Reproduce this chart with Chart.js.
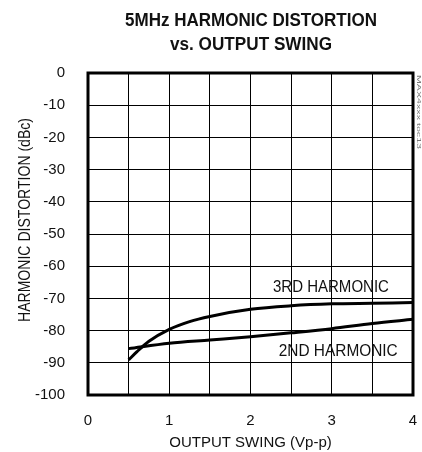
<!DOCTYPE html>
<html><head><meta charset="utf-8">
<script src="https://cdn.jsdelivr.net/npm/chart.js@4/dist/chart.umd.min.js"></script>
<style>html,body{margin:0;padding:0;background:#fff}#c{display:block}</style>
</head><body>
<canvas id="c" width="422" height="452"></canvas>
<script>
const titleLines = ["5MHz HARMONIC DISTORTION", "vs. OUTPUT SWING"];
const xTitle = "OUTPUT SWING (Vp-p)";
const yTitle = "HARMONIC DISTORTION (dBc)";
const sideNote = "MAX4xxx toc13";
const swing3rd = [0.5, 0.6, 0.75, 1.0, 1.25, 1.5, 2.0, 2.5, 3.0, 3.5, 4.0];
const hd3 = [-89.1, -86.6, -83.3, -79.6, -77.2, -75.6, -73.4, -72.3, -71.7, -71.5, -71.3];
const swing2nd = [0.5, 1.0, 1.5, 2.0, 2.5, 3.0, 3.5, 4.0];
const hd2 = [-85.6, -83.9, -82.9, -81.9, -80.7, -79.4, -77.8, -76.5];
const curveLabels = [
  {text: "3RD HARMONIC", x: 2.99, y: -66.5},
  {text: "2ND HARMONIC", x: 3.08, y: -86.3}
];
const yTicks = [0,-10,-20,-30,-40,-50,-60,-70,-80,-90,-100];
const xGrid = [0,0.5,1,1.5,2,2.5,3,3.5,4];
const xTickLabels = [0,1,2,3,4];

const FONT = "'Liberation Sans',Arial,sans-serif";

function fitText(ctx, text, cx, cy, font, targetW) {
  ctx.save();
  ctx.font = font;
  const w = ctx.measureText(text).width;
  ctx.translate(cx, cy);
  ctx.scale(targetW / w, 1);
  ctx.textAlign = 'center'; ctx.textBaseline = 'middle';
  ctx.fillText(text, 0, 0);
  ctx.restore();
}

const deco = {
  id: 'deco',
  afterDatasetsDraw(chart) {
    const {ctx, chartArea: a, scales} = chart;
    ctx.save();
    ctx.strokeStyle = '#000'; ctx.lineWidth = 3;
    ctx.strokeRect(a.left, a.top, a.right - a.left, a.bottom - a.top);
    ctx.fillStyle = '#111';
    fitText(ctx, curveLabels[0].text, scales.x.getPixelForValue(curveLabels[0].x), scales.y.getPixelForValue(curveLabels[0].y), "17px " + FONT, 116);
    fitText(ctx, curveLabels[1].text, scales.x.getPixelForValue(curveLabels[1].x), scales.y.getPixelForValue(curveLabels[1].y), "17px " + FONT, 119);
    fitText(ctx, titleLines[0], 251, 20.5, "bold 19px " + FONT, 252);
    fitText(ctx, titleLines[1], 251, 44.5, "bold 19px " + FONT, 162);
    ctx.save();
    ctx.translate(26, 220); ctx.rotate(-Math.PI/2);
    fitText(ctx, yTitle, 0, 0, "16px " + FONT, 204);
    ctx.restore();
    ctx.save();
    ctx.translate(418, 112); ctx.rotate(Math.PI/2);
    ctx.fillStyle = '#777';
    fitText(ctx, sideNote, 0, 0, "5px " + FONT, 74);
    ctx.restore();
    ctx.restore();
  }
};

new Chart(document.getElementById('c'), {
  type: 'line',
  data: {
    datasets: [
      {label: '3RD', data: swing3rd.map((x,i)=>({x, y: hd3[i]})), borderColor: '#000', borderWidth: 3, pointRadius: 0, cubicInterpolationMode: 'monotone', fill: false},
      {label: '2ND', data: swing2nd.map((x,i)=>({x, y: hd2[i]})), borderColor: '#000', borderWidth: 3, pointRadius: 0, cubicInterpolationMode: 'monotone', fill: false}
    ]
  },
  options: {
    responsive: false, animation: false, devicePixelRatio: 1,
    layout: {padding: {top: 73, right: 9, left: 0, bottom: 0}},
    plugins: {legend: {display: false}, title: {display: false}, tooltip: {enabled: false}},
    scales: {
      x: {
        type: 'linear', min: 0, max: 4,
        afterBuildTicks(s) { s.ticks = xGrid.map(v=>({value:v})); },
        afterFit(s) { s.height = 57; s.paddingRight = 0; s.paddingLeft = 0; },
        grid: {color: '#000', lineWidth: 1, drawTicks: false},
        border: {display: false},
        ticks: {color: '#111', font: {family: FONT, size: 15}, padding: 17, maxRotation: 0, autoSkip: false,
          callback: v => xTickLabels.includes(v) ? String(v) : ''},
        title: {display: true, text: xTitle, color: '#111', font: {family: FONT, size: 15}, padding: {top: 3, bottom: 0}}
      },
      y: {
        type: 'linear', min: -100, max: 0,
        afterBuildTicks(s) { s.ticks = yTicks.map(v=>({value:v})); },
        afterFit(s) { s.width = 88; s.paddingTop = 0; s.paddingBottom = 0; },
        grid: {color: '#000', lineWidth: 1, drawTicks: false},
        border: {display: false},
        ticks: {color: '#111', font: {family: FONT, size: 15}, padding: 23, autoSkip: false},
        title: {display: false}
      }
    }
  },
  plugins: [deco]
});
</script>
</body></html>
